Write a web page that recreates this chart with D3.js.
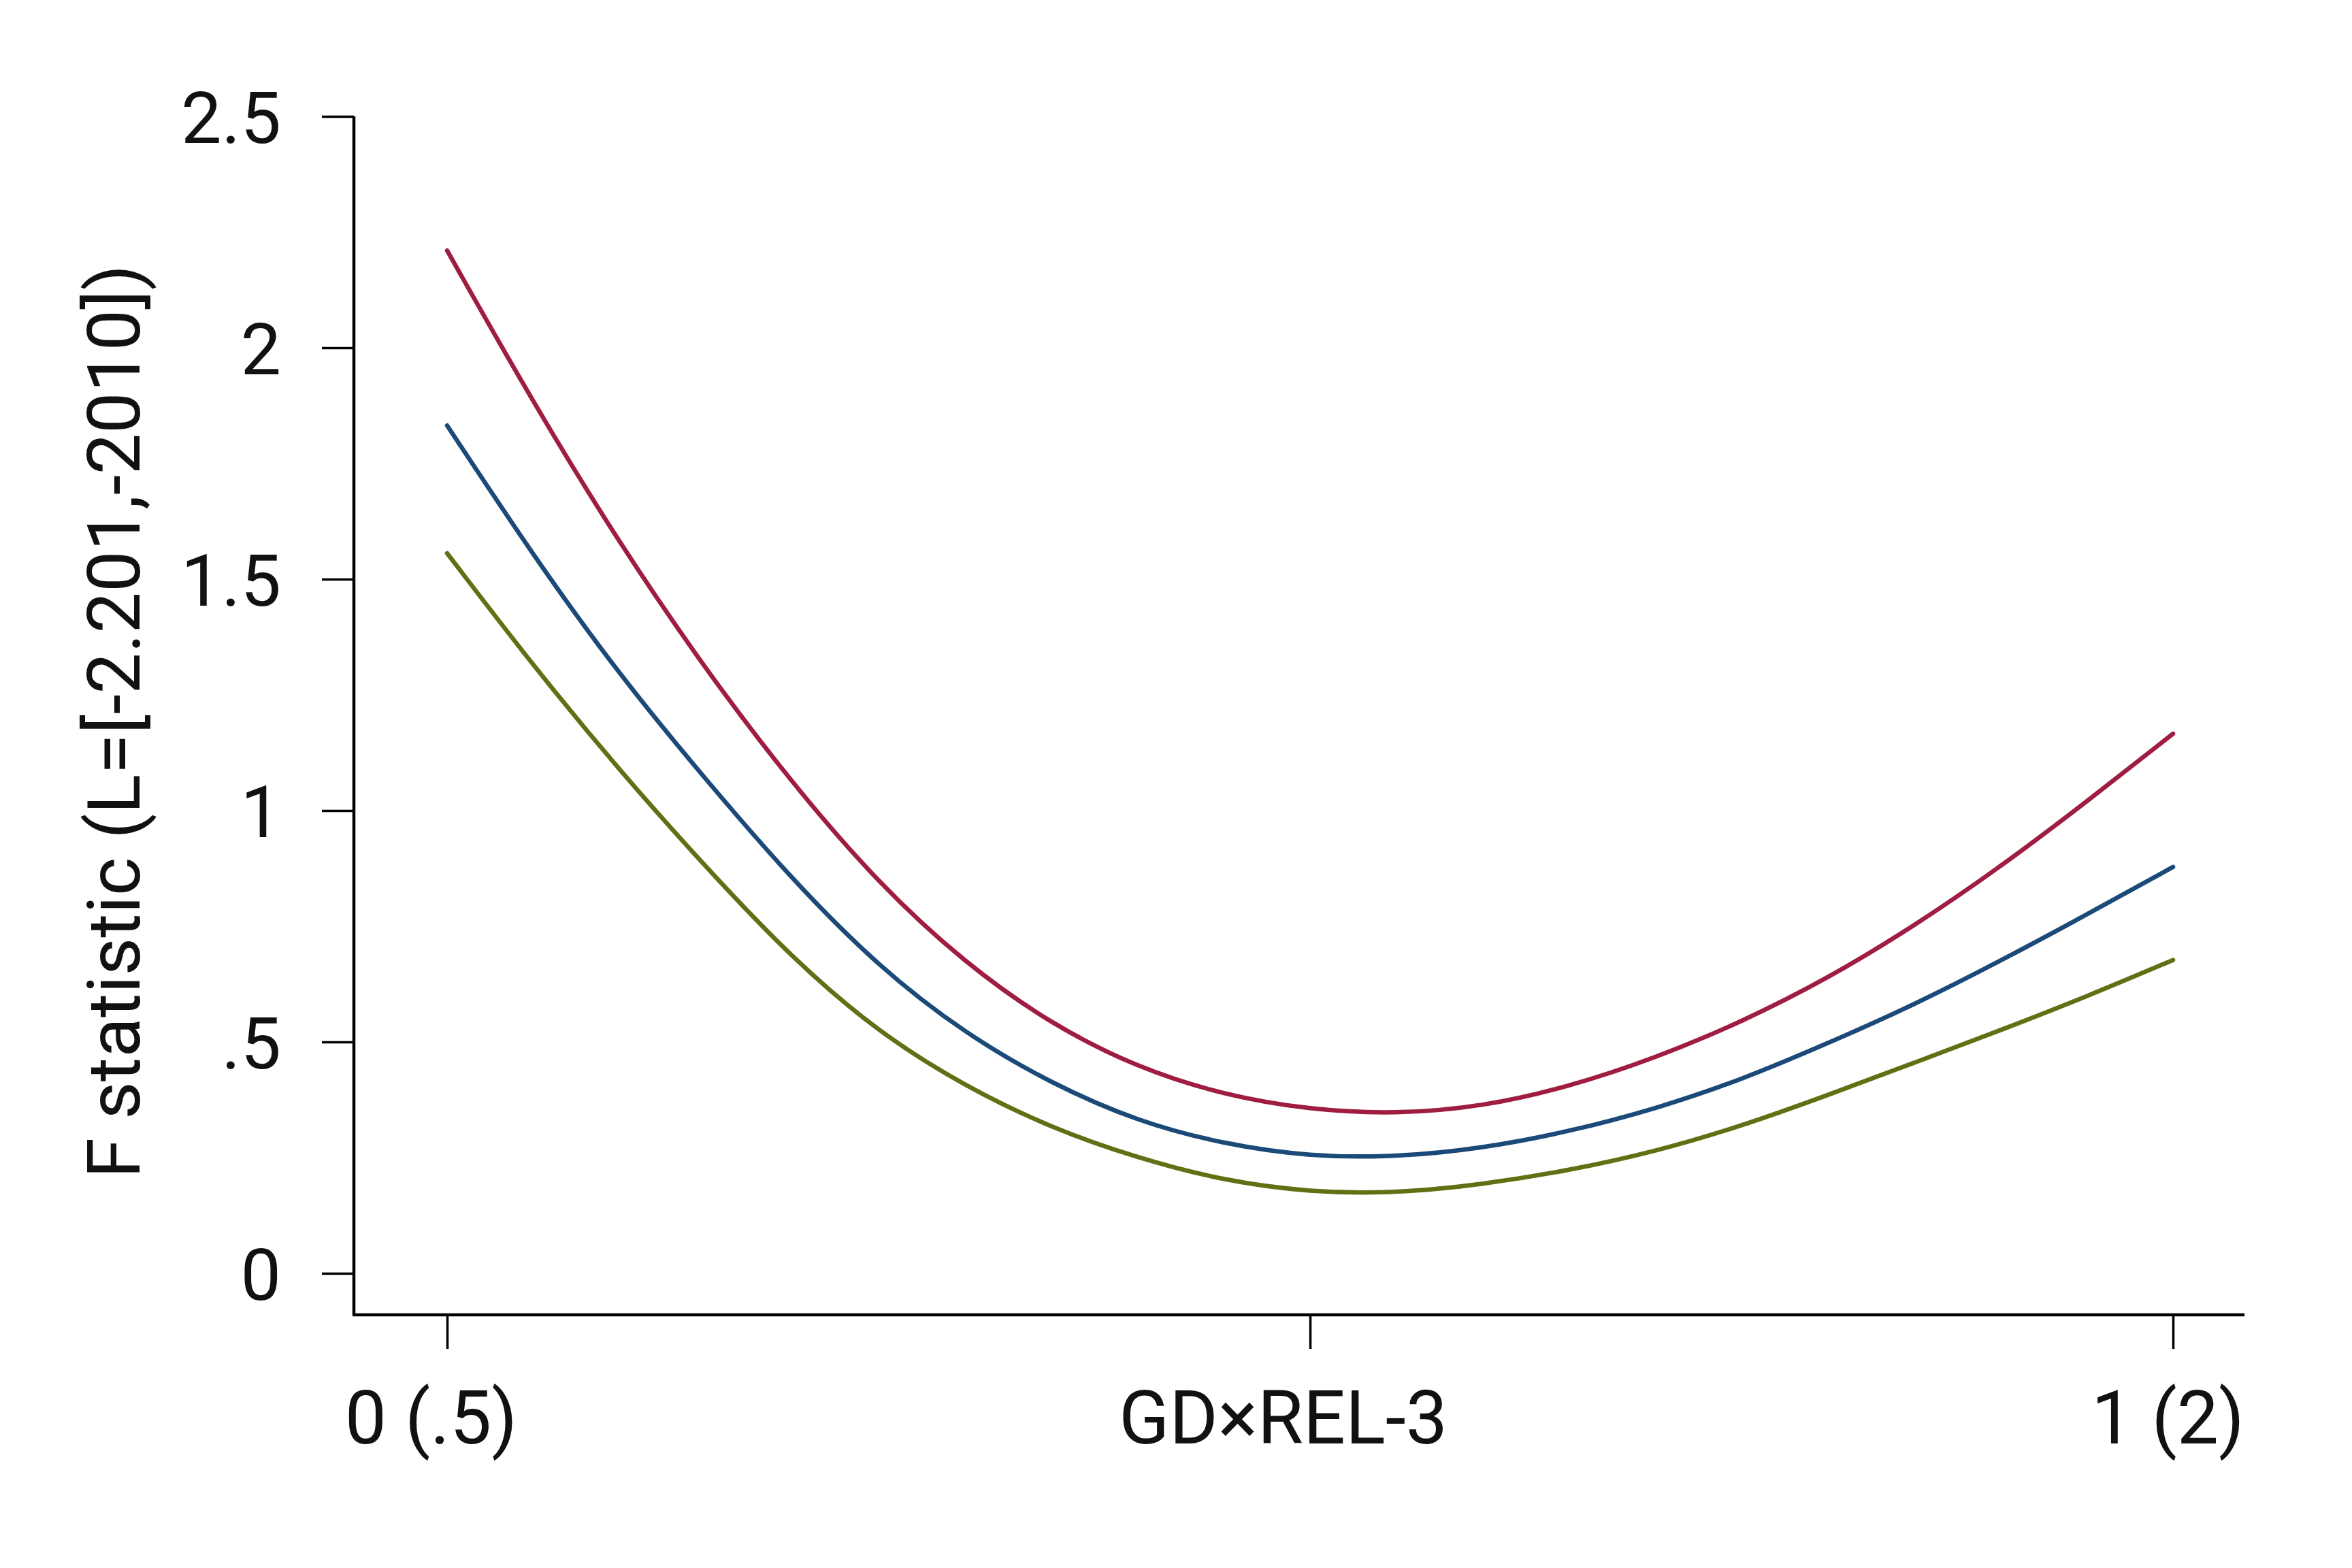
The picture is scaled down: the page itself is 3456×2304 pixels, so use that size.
<!DOCTYPE html>
<html>
<head>
<meta charset="utf-8">
<script src="https://cdn.jsdelivr.net/npm/d3@7"></script>
<style>
  html, body { margin: 0; padding: 0; background: #fff; }
  svg { display: block; }
  text { font-family: Roboto, "Liberation Sans", sans-serif; fill: #111; }
</style>
</head>
<body>
<svg id="chart" width="3456" height="2304"></svg>
<script>
// x positions (0..1 along GD×REL-3)
const xValues = [0, 0.05, 0.1, 0.15, 0.2, 0.25, 0.3, 0.35, 0.4, 0.45, 0.5,
                 0.55, 0.6, 0.65, 0.7, 0.75, 0.8, 0.85, 0.9, 0.95, 1];

// F statistic
const redSeries   = [2.21, 1.88, 1.576, 1.303, 1.058, 0.842, 0.670, 0.538, 0.444, 0.385, 0.353,
                     0.344, 0.360, 0.403, 0.465, 0.543, 0.637, 0.750, 0.878, 1.019, 1.166];
const blueSeries  = [1.832, 1.550, 1.292, 1.066, 0.850, 0.662, 0.518, 0.410, 0.328, 0.279, 0.252,
                     0.251, 0.270, 0.306, 0.355, 0.418, 0.497, 0.580, 0.675, 0.775, 0.878];
const greenSeries = [1.556, 1.312, 1.086, 0.877, 0.680, 0.520, 0.404, 0.314, 0.249, 0.200, 0.175,
                     0.173, 0.192, 0.222, 0.263, 0.318, 0.385, 0.455, 0.525, 0.598, 0.677];

const yTicks = [0, 0.5, 1, 1.5, 2, 2.5];
const yTickLabels = ['0', '.5', '1', '1.5', '2', '2.5'];
const xTicks = [0, 0.5, 1];
const xTickLabels = ['0 (.5)', 'GD\u00d7REL-3', '1 (2)'];
const yTitle = 'F statistic (L=[-2.201,-2010])';

const seriesList = [
  { name: 'red', values: redSeries, color: '#9f1d41' },
  { name: 'blue', values: blueSeries, color: '#1b4a78' },
  { name: 'green', values: greenSeries, color: '#5f7114' }
];

const svg = d3.select('#chart');

// Scales
const xScale = d3.scaleLinear().domain([0, 1]).range([657, 3193]);
const yScale = d3.scaleLinear().domain([0, 2.5]).range([1871, 171]);

const axisLeftX = 520;   // where the y axis sits
const axisBottomY = 1932; // where the x axis sits
const axisRightEnd = 3298;

// Y axis
const yAxis = svg.append('g')
  .attr('transform', `translate(${axisLeftX},0)`)
  .call(d3.axisLeft(yScale)
    .tickValues(yTicks)
    .tickFormat((d, i) => yTickLabels[i])
    .tickSize(47)
    .tickPadding(60));
yAxis.select('.domain').remove();
yAxis.selectAll('.tick line').attr('stroke', '#000').attr('stroke-width', 3.5);
yAxis.selectAll('.tick text')
  .style('font-size', '106px')
  .style('font-family', 'Roboto, "Liberation Sans", sans-serif')
  .attr('fill', '#111')
  .attr('dy', '0.36em');

svg.append('line')
  .attr('x1', axisLeftX).attr('x2', axisLeftX)
  .attr('y1', yScale(2.5)).attr('y2', axisBottomY)
  .attr('stroke', '#000').attr('stroke-width', 4.5);

// X axis
const xAxis = svg.append('g')
  .attr('transform', `translate(0,${axisBottomY})`)
  .call(d3.axisBottom(xScale)
    .tickValues(xTicks)
    .tickFormat((d, i) => xTickLabels[i])
    .tickSize(50)
    .tickPadding(62));
xAxis.select('.domain').remove();
xAxis.selectAll('.tick line').attr('stroke', '#000').attr('stroke-width', 3.5);
xAxis.selectAll('.tick text')
  .style('font-size', '109px')
  .style('font-family', 'Roboto, "Liberation Sans", sans-serif')
  .attr('fill', '#111')
  .attr('dx', (d, i) => i === 1 ? -40 : (i === 0 ? -24 : -8));

svg.append('line')
  .attr('x1', axisLeftX - 2).attr('x2', axisRightEnd)
  .attr('y1', axisBottomY).attr('y2', axisBottomY)
  .attr('stroke', '#000').attr('stroke-width', 4.5);

// Y axis title
svg.append('text')
  .attr('transform', `translate(205, 1060) rotate(-90)`)
  .attr('text-anchor', 'middle')
  .style('font-size', '108px')
  .text(yTitle);

// Lines
const line = d3.line()
  .x((d, i) => xScale(xValues[i]))
  .y(d => yScale(d))
  .curve(d3.curveBasis);

svg.selectAll('.series')
  .data(seriesList)
  .enter().append('path')
  .attr('class', 'series')
  .attr('d', d => line(d.values))
  .attr('fill', 'none')
  .attr('stroke', d => d.color)
  .attr('stroke-width', 6.5)
  .attr('stroke-linecap', 'round')
  .attr('stroke-linejoin', 'round');
</script>
</body>
</html>
